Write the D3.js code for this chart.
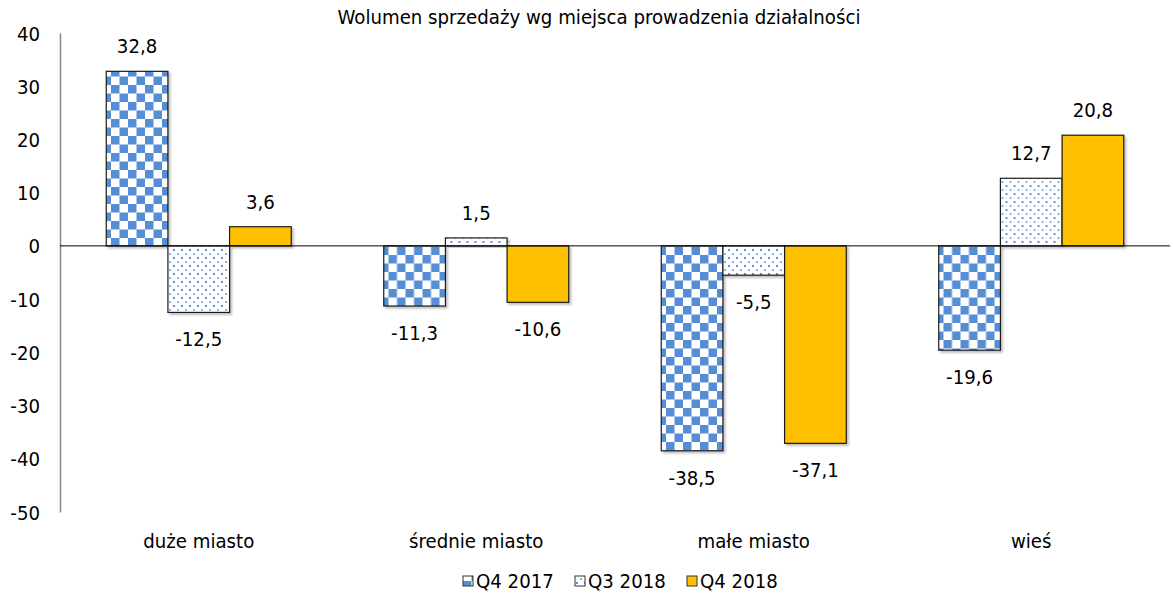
<!DOCTYPE html>
<html>
<head>
<meta charset="utf-8">
<script src="https://cdn.jsdelivr.net/npm/d3@7"></script>
<style>
  html, body { margin: 0; padding: 0; background: #fff; }
  svg { display: block; }
  text { font-family: "DejaVu Sans Condensed", "DejaVu Sans", sans-serif; font-stretch: condensed; fill: #000; }
</style>
</head>
<body>
<svg id="chart" width="1173" height="599"></svg>
<script>
// Sales volume by place of business – categories, series and values
const categories = ["duże miasto", "średnie miasto", "małe miasto", "wieś"];
const seriesNames = ["Q4 2017", "Q3 2018", "Q4 2018"];
const q4_2017 = [32.8, -11.3, -38.5, -19.6];
const q3_2018 = [-12.5, 1.5, -5.5, 12.7];
const q4_2018 = [3.6, -10.6, -37.1, 20.8];
const yTicks = [40, 30, 20, 10, 0, -10, -20, -30, -40, -50];
const title = "Wolumen sprzedaży wg miejsca prowadzenia działalności";

const seriesValues = [q4_2017, q3_2018, q4_2018];
const fills = ["url(#checker)", "url(#dots)", "#FFC000"];

const svg = d3.select("#chart");
const plot = { left: 60, right: 1170, top: 33, bottom: 512 };
const FS = 20.2;

// Fill patterns
const defs = svg.append("defs");
const checker = defs.append("pattern")
  .attr("id", "checker").attr("patternUnits", "userSpaceOnUse")
  .attr("width", 17).attr("height", 17);
checker.append("rect").attr("width", 17).attr("height", 17).attr("fill", "#fff");
checker.append("rect").attr("x", 0).attr("y", 0).attr("width", 8.5).attr("height", 8.5).attr("fill", "#558ED5");
checker.append("rect").attr("x", 8.5).attr("y", 8.5).attr("width", 8.5).attr("height", 8.5).attr("fill", "#558ED5");

const dots = defs.append("pattern")
  .attr("id", "dots").attr("patternUnits", "userSpaceOnUse")
  .attr("width", 8).attr("height", 8);
dots.append("rect").attr("width", 8).attr("height", 8).attr("fill", "#fff");
dots.append("rect").attr("x", 1).attr("y", 1).attr("width", 2).attr("height", 2).attr("fill", "#5B8FD8");
dots.append("rect").attr("x", 5).attr("y", 5).attr("width", 2).attr("height", 2).attr("fill", "#8DB3E6");

const shadow = defs.append("filter").attr("id", "shadow")
  .attr("x", "-10%").attr("y", "-10%").attr("width", "130%").attr("height", "130%");
shadow.append("feDropShadow").attr("dx", 2).attr("dy", 2).attr("stdDeviation", 1)
  .attr("flood-color", "#000").attr("flood-opacity", 0.25);

// Scales
const y = d3.scaleLinear().domain([-50, 40]).range([plot.bottom, plot.top]);
const x0 = d3.scaleBand().domain(categories).range([plot.left, plot.right]);
const groupPad = x0.bandwidth() * (1.5 / 4.5) / 2;
const x1 = d3.scaleBand().domain(seriesNames)
  .range([groupPad, x0.bandwidth() - groupPad]);

// Title
svg.append("text")
  .attr("x", 599).attr("y", 17)
  .attr("text-anchor", "middle").attr("dominant-baseline", "central")
  .style("font-size", FS + "px")
  .text(title);

// Y axis (line + labels, no tick marks)
const yAxis = d3.axisLeft(y).tickValues(yTicks).tickSize(0).tickPadding(20)
  .tickFormat(d => String(d));
const gy = svg.append("g").attr("transform", `translate(${plot.left},0)`).call(yAxis);
gy.select(".domain").attr("stroke", "#868686").attr("stroke-width", 1.5);
gy.selectAll("text").style("font-size", FS + "px")
  .attr("font-family", null).attr("dy", "0.35em");

// Bars
const fmt = v => String(v).replace(".", ",");
const groups = svg.append("g").selectAll("g")
  .data(categories).join("g")
  .attr("transform", c => `translate(${x0(c)},0)`);

seriesNames.forEach((s, si) => {
  groups.append("rect")
    .attr("x", x1(s))
    .attr("width", x1.bandwidth())
    .attr("y", (c, ci) => Math.min(y(seriesValues[si][ci]), y(0)))
    .attr("height", (c, ci) => Math.abs(y(seriesValues[si][ci]) - y(0)))
    .attr("fill", fills[si])
    .attr("stroke", "#1a1a1a").attr("stroke-width", 1.2)
    .attr("filter", "url(#shadow)");
});

// Zero line
svg.append("line")
  .attr("x1", plot.left).attr("x2", plot.right)
  .attr("y1", y(0)).attr("y2", y(0))
  .attr("stroke", "#000").attr("stroke-width", 1);

// Data labels
seriesNames.forEach((s, si) => {
  groups.append("text")
    .attr("x", x1(s) + x1.bandwidth() / 2)
    .attr("y", (c, ci) => {
      const v = seriesValues[si][ci];
      return v >= 0 ? y(v) - 25 : y(v) + 27;
    })
    .attr("text-anchor", "middle").attr("dominant-baseline", "central")
    .style("font-size", FS + "px")
    .text((c, ci) => fmt(seriesValues[si][ci]));
});

// Category labels
svg.append("g").selectAll("text")
  .data(categories).join("text")
  .attr("x", c => x0(c) + x0.bandwidth() / 2)
  .attr("y", 541)
  .attr("text-anchor", "middle").attr("dominant-baseline", "central")
  .style("font-size", FS + "px")
  .text(c => c);

// Legend
const legendX = [463, 575, 687];
const legend = svg.append("g").selectAll("g")
  .data(seriesNames).join("g")
  .attr("transform", (d, i) => `translate(${legendX[i]},581)`);
legend.append("rect")
  .attr("x", 0).attr("y", -5).attr("width", 10).attr("height", 10)
  .attr("fill", (d, i) => fills[i])
  .attr("stroke", "#333").attr("stroke-width", 1);
legend.append("text")
  .attr("x", 13).attr("y", 0)
  .attr("dominant-baseline", "central")
  .style("font-size", FS + "px")
  .text(d => d);
</script>
</body>
</html>
